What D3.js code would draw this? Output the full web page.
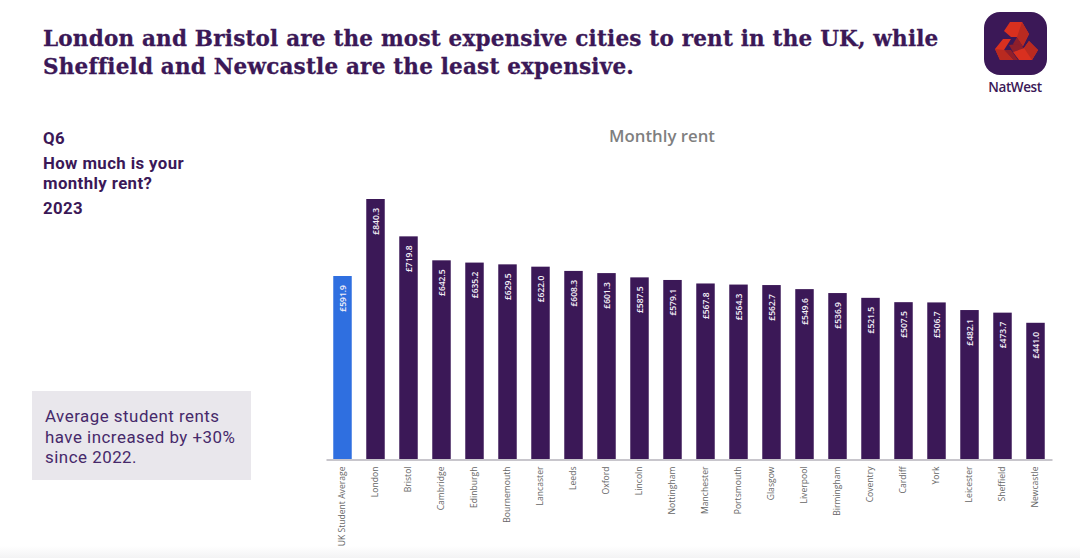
<!DOCTYPE html>
<html>
<head>
<meta charset="utf-8">
<script src="https://cdnjs.cloudflare.com/ajax/libs/d3/7.8.5/d3.min.js"></script>
<style>
html, body { margin: 0; padding: 0; background: #fff; overflow: hidden; }
text { font-family: "Open Sans", "Lato", sans-serif; }
</style>
</head>
<body>
<svg id="chart" width="1080" height="558"></svg>
<script>
var cities = ["UK Student Average", "London", "Bristol", "Cambridge", "Edinburgh", "Bournemouth",
	"Lancaster", "Leeds", "Oxford", "Lincoln", "Nottingham", "Manchester", "Portsmouth", "Glasgow",
	"Liverpool", "Birmingham", "Coventry", "Cardiff", "York", "Leicester", "Sheffield", "Newcastle"];
var rents = [591.9, 840.3, 719.8, 642.5, 635.2, 629.5, 622.0, 608.3, 601.3, 587.5, 579.1,
	567.8, 564.3, 562.7, 549.6, 536.9, 521.5, 507.5, 506.7, 482.1, 473.7, 441.0];
var titleLines = ["London and Bristol are the most expensive cities to rent in the UK, while",
	"Sheffield and Newcastle are the least expensive."];
var questionLines = ["Q6", "How much is your", "monthly rent?", "2023"];
var noteLines = ["Average student rents", "have increased by +30%", "since 2022."];

var purple = "#3b1857", blue = "#2f6fe0", grey = "#c8c6cc";
var svg = d3.select("#chart");

// faint grey band along the bottom of the screenshot
var fade = svg.append("defs").append("linearGradient")
	.attr("id", "fade").attr("x1", 0).attr("x2", 0).attr("y1", 0).attr("y2", 1);
fade.append("stop").attr("offset", 0).attr("stop-color", "#fff");
fade.append("stop").attr("offset", 1).attr("stop-color", "#f3f3f4");
svg.append("rect").attr("x", 0).attr("y", 546).attr("width", 1080).attr("height", 12).attr("fill", "url(#fade)");

// headline
svg.append("g").selectAll("text").data(titleLines).join("text")
	.attr("x", 43).attr("y", function(d, i) { return 46 + i * 28; })
	.attr("font-size", 21.5).attr("font-weight", 700).attr("letter-spacing", 0.2)
	.attr("stroke", purple).attr("stroke-width", 0.3)
	.style("font-family", '"DejaVu Serif", serif')
	.attr("fill", purple).text(function(d) { return d; });

// left column, Roboto because its line box fits the tight leading
var questionY = [144, 169, 189, 214];
svg.append("g").selectAll("text").data(questionLines).join("text")
	.attr("x", 43).attr("y", function(d, i) { return questionY[i]; })
	.attr("font-size", 16.8).attr("font-weight", 700).attr("letter-spacing", 0.4)
	.style("font-family", "Roboto, sans-serif")
	.attr("fill", purple).text(function(d) { return d; });

svg.append("rect").attr("x", 32).attr("y", 391).attr("width", 219).attr("height", 89).attr("fill", "#e9e7ec");
svg.append("g").selectAll("text").data(noteLines).join("text")
	.attr("x", 45).attr("y", function(d, i) { return 422 + i * 20.5; })
	.attr("font-size", 16.9).attr("letter-spacing", 0.5)
	.style("font-family", "Roboto, sans-serif")
	.attr("fill", "#46296a").text(function(d) { return d; });

// chart
var x = d3.scaleBand().domain(cities).range([326, 1052]).paddingInner(0.44).paddingOuter(0.22);
var y = d3.scaleLinear().domain([0, 840.3]).range([459.5, 199]);

svg.append("text").attr("x", 662).attr("y", 142).attr("text-anchor", "middle")
	.attr("font-size", 16.8).attr("font-weight", 600).attr("fill", "#7f7f7f").text("Monthly rent");

svg.selectAll("rect.bar").data(cities).join("rect")
	.attr("class", "bar")
	.attr("x", function(d) { return x(d); })
	.attr("y", function(d, i) { return y(rents[i]); })
	.attr("width", x.bandwidth())
	.attr("height", function(d, i) { return y(0) - y(rents[i]); })
	.attr("fill", function(d, i) { return i == 0 ? blue : purple; });

svg.selectAll("text.val").data(cities).join("text")
	.attr("class", "val")
	.attr("transform", function(d, i) {
		return "translate(" + (x(d) + x.bandwidth() / 2 + 3) + "," + (y(rents[i]) + 9) + ") rotate(-90)";
	})
	.attr("text-anchor", "end")
	.attr("font-size", 8.5).attr("font-weight", 600).attr("fill", "#f4f0f8")
	.text(function(d, i) { return "£" + rents[i].toFixed(1); });

var axis = svg.append("g").attr("transform", "translate(0," + y(0) + ")")
	.call(d3.axisBottom(x).tickSize(0).tickPadding(6));
axis.select(".domain").attr("stroke", grey).attr("stroke-width", 2);
axis.selectAll("text")
	.attr("transform", "rotate(-90)")
	.attr("text-anchor", "end")
	.attr("x", -7).attr("y", 0).attr("dy", "0.32em")
	.attr("font-size", 8.6).attr("fill", "#666")
	.style("font-family", '"Open Sans", "Lato", sans-serif');

// logo
var logo = svg.append("g");
logo.append("rect").attr("x", 984).attr("y", 12).attr("width", 63).attr("height", 63).attr("rx", 16).attr("fill", purple);
var logoDark = ["1017,37 1023,46 1019,52 1013,44", "1004,50 1012,60 1018,60 1011,50", "1024,48 1013,52 1009,45 1017,44"];
var logoCubes = ["1010,22 1022,22 1029,34 1023,46 1017,37 1011,37 1004,31",
	"1003,39 1011,39 1004,50 1013,60 1000,60 995,49",
	"1029,41 1038,50 1032,60 1019,60 1013,52 1024,48"];
var logoFaces = ["1022,22 1029,34 1023,46 1017,37",
	"1004,50 1013,60 1000,60 995,49",
	"1029,41 1038,50 1032,60 1024,48"];
logoDark.forEach(function(p) { logo.append("polygon").attr("points", p).attr("fill", "#8f1f2b"); });
logoCubes.forEach(function(p) { logo.append("polygon").attr("points", p).attr("fill", "#d9301f"); });
logoFaces.forEach(function(p) { logo.append("polygon").attr("points", p).attr("fill", "#b92a20"); });
logo.append("text").attr("x", 1015).attr("y", 92).attr("text-anchor", "middle")
	.attr("font-size", 13.5).attr("font-weight", 600).attr("letter-spacing", -0.4)
	.attr("fill", purple).text("NatWest");
</script>
</body>
</html>
